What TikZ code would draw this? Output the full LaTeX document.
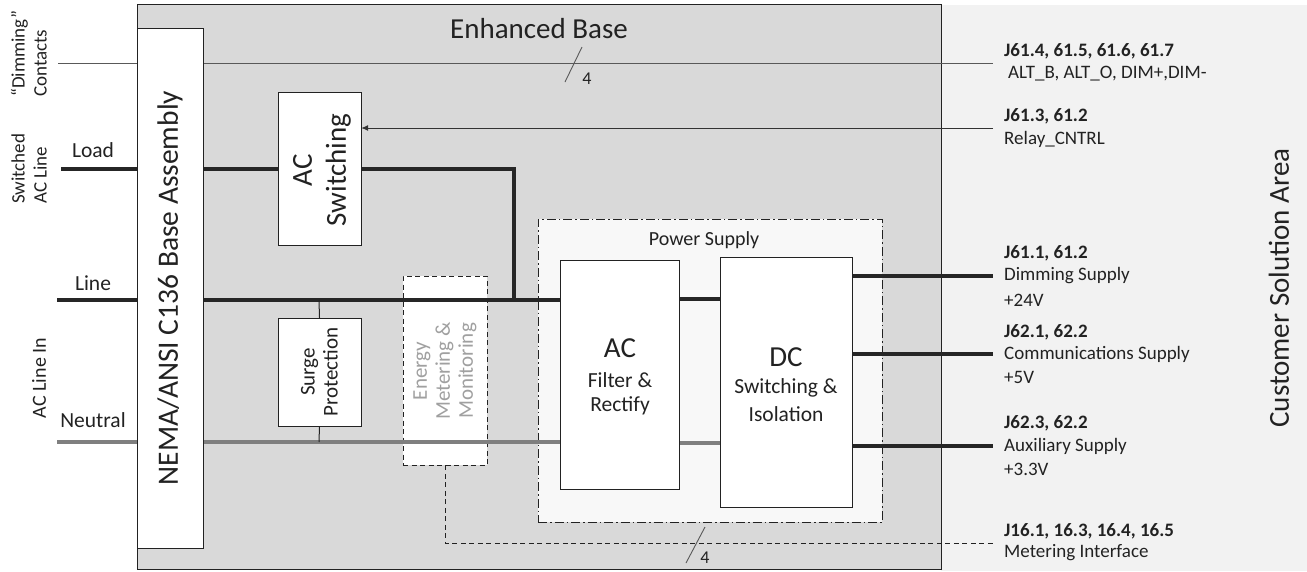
\documentclass[tikz,border=0pt]{standalone}
\usepackage{fontspec}
\setmainfont{Carlito}
\usetikzlibrary{arrows.meta,calc}
\definecolor{basegray}{HTML}{D9D9D9}
\definecolor{custgray}{HTML}{F2F2F2}
\definecolor{psfill}{HTML}{F8F8F8}
\definecolor{txt}{HTML}{222222}
\definecolor{neutralc}{HTML}{7F7F7F}
\definecolor{emtxt}{HTML}{A0A0A0}
\newcommand{\fs}[2]{\fontsize{#1}{#2}\selectfont}
\begin{document}
\begin{tikzpicture}[x=1pt,y=-1pt,
  box/.style={draw=txt, fill=white, line width=1pt, inner sep=0pt},
  thickw/.style={line width=3.6pt, draw=black!85},
  neut/.style={line width=3.6pt, draw=neutralc},
  thinw/.style={line width=0.9pt, draw=black!65},
  lbl/.style={text=txt, inner sep=0pt, font=\fs{18}{22}},
  rlbl/.style={text=txt, inner sep=0pt, anchor=west, font=\fs{19}{23}},
  rbold/.style={rlbl, font=\fs{19}{23}\bfseries},
  vlbl/.style={text=txt, inner sep=0pt, rotate=90, align=center},
]
\useasboundingbox (0,0) rectangle (1307,571);
% areas
\node[fill=custgray, inner sep=0pt, minimum width=366, minimum height=566] (cust) at (1124,288) {};
\node[draw=txt, fill=basegray, line width=1pt, inner sep=0pt, minimum width=804, minimum height=565] (base) at (539,286.5) {};
\node[draw=txt, fill=psfill, line width=0.9pt, inner sep=0pt, minimum width=344, minimum height=303,
  dash pattern=on 9pt off 3pt on 1.5pt off 3pt] (ps) at (710,370.5) {};
\node[draw=txt, fill=white, line width=0.9pt, inner sep=0pt, minimum width=84, minimum height=189,
  dash pattern=on 5pt off 3.5pt] (energy) at (445,370.5) {};

% coordinates
\coordinate (dimL) at (58,63);
\coordinate (dimR) at (993,63);
\coordinate (loadL) at (61,169);
\coordinate (lineL) at (57,300);
\coordinate (neuL) at (57,442);
\coordinate (jn) at (514,169);
\coordinate (jl) at (514,300);
\coordinate (relayR) at (993,128);
\coordinate (sp1) at (319,300);
\coordinate (sp2) at (319,442);
\coordinate (mcorner) at (445,543);
\coordinate (mR) at (993,543);
\coordinate (o1) at (993,276);
\coordinate (o2) at (993,354);
\coordinate (o3) at (993,446);

% box placeholders
\path (319.5,168.5) node[minimum width=83, minimum height=153, inner sep=0pt] (acswp) {};
\path (619.5,374.5) node[minimum width=119, minimum height=229, inner sep=0pt] (acfp) {};
\path (786,382) node[minimum width=132, minimum height=250, inner sep=0pt] (dcp) {};
\path (319.5,372) node[minimum width=83, minimum height=108, inner sep=0pt] (surgep) {};

% connectors
\draw[thinw] (dimL) -- (dimR);
\draw[thinw] (582,47) -- (565,82);
\node[lbl, font=\fs{18}{18}] (n4a) at (587,79) {4};
\draw[thickw] (loadL) -- (loadL -| acswp.west);
\draw[thickw] (acswp.east |- jn) -- (jn) -- (jl);
\draw[thickw] (lineL) -- (lineL -| acfp.west);
\draw[thickw] (acfp.east |- 0,299) -- (dcp.west |- 0,299);
\draw[neut] (neuL) -- (neuL -| acfp.west);
\draw[neut] (acfp.east |- 0,443) -- (dcp.west |- 0,443);
\draw[line width=1pt, draw=txt] (sp1) -- (surgep.north);
\draw[line width=1pt, draw=txt] (surgep.south) -- (sp2);
\draw[line width=1pt, draw=black!80, -{Latex[length=7pt,width=6pt]}] (relayR) -- (relayR -| acswp.east);
\draw[line width=1pt, draw=txt, dash pattern=on 5pt off 3.5pt] (energy.south) -- (mcorner) -- (mR);
\draw[thinw] (705,527) -- (686,563);
\node[lbl, font=\fs{18}{18}] (n4b) at (705,558) {4};
\draw[thickw] (dcp.east |- o1) -- (o1);
\draw[thickw] (dcp.east |- o2) -- (o2);
\draw[thickw] (dcp.east |- o3) -- (o3);

% boxes on top
\node[box, minimum width=66, minimum height=520] (nema) at (170,288) {};
\node[vlbl, font=\fs{29.5}{30}] (nematxt) at (nema.center) {NEMA/ANSI C136 Base Assembly};
\node[box, minimum width=83, minimum height=153] (acsw) at (acswp) {};
\node[vlbl, font=\fs{29}{34}] (acswtxt) at (322,170) {AC\\Switching};
\node[box, minimum width=83, minimum height=108] (surge) at (surgep) {};
\node[vlbl, font=\fs{21}{23}] (surgetxt) at (surge.center) {Surge\\Protection};
\node[vlbl, font=\fs{21}{23}, text=emtxt] (energytxt) at (445,371) {Energy\\Metering \&\\Monitoring};
\node[box, minimum width=119, minimum height=229] (acf) at (acfp) {};
\node[box, minimum width=132, minimum height=250] (dc) at (dcp) {};
\node[lbl, font=\fs{29}{30}] (actxt) at (620,348) {AC};
\node[lbl, font=\fs{21.5}{22}] (actxt2) at (620,380) {Filter \&};
\node[lbl, font=\fs{21.5}{22}] (actxt3) at (620,406) {Rectify};
\node[lbl, font=\fs{29}{30}] (dctxt) at (786,357) {DC};
\node[lbl, font=\fs{21.5}{22}] (dctxt2) at (786,388) {Switching \&};
\node[lbl, font=\fs{21.5}{22}] (dctxt3) at (786,414) {Isolation};
\node[lbl, font=\fs{20}{20}] (pstxt) at (704,240) {Power Supply};
\node[lbl, font=\fs{29}{30}] (ebtxt) at (539,29) {Enhanced Base};
\node[vlbl, font=\fs{29}{30}] (custtxt) at (1279,288) {Customer Solution Area};

% left labels
\node[vlbl, font=\fs{19}{22}, align=left, anchor=south west] (dimtxt) at (47,97) {“Dimming”\\Contacts};
\node[vlbl, font=\fs{19}{22}, align=left, anchor=south west] (swtxt) at (47,204) {Switched\\AC Line};
\node[vlbl, font=\fs{20}{22}] (acintxt) at (39,378) {AC Line In};
\node[lbl, font=\fs{21.5}{22}] (loadtxt) at (93,150) {Load};
\node[lbl, font=\fs{21.5}{22}] (linetxt) at (93,283) {Line};
\node[lbl, font=\fs{21.5}{22}] (neutxt) at (93,420) {Neutral};

% right labels
\node[rbold] (r1a) at (1004,51) {J61.4, 61.5, 61.6, 61.7};
\node[rlbl] (r1b) at (1008,74) {ALT\_B, ALT\_O, DIM+,DIM-};
\node[rbold] (r2a) at (1004,116) {J61.3, 61.2};
\node[rlbl] (r2b) at (1004,139) {Relay\_CNTRL};
\node[rbold] (r3a) at (1004,253) {J61.1, 61.2};
\node[rlbl] (r3b) at (1004,276) {Dimming Supply};
\node[rlbl] (r3c) at (1004,300) {+24V};
\node[rbold] (r4a) at (1004,332) {J62.1, 62.2};
\node[rlbl] (r4b) at (1004,354) {Communications Supply};
\node[rlbl] (r4c) at (1004,377) {+5V};
\node[rbold] (r5a) at (1004,423) {J62.3, 62.2};
\node[rlbl] (r5b) at (1004,446) {Auxiliary Supply};
\node[rlbl] (r5c) at (1004,469) {+3.3V};
\node[rbold] (r6a) at (1004,531) {J16.1, 16.3, 16.4, 16.5};
\node[rlbl] (r6b) at (1004,553) {Metering Interface};
\end{tikzpicture}
\end{document}
